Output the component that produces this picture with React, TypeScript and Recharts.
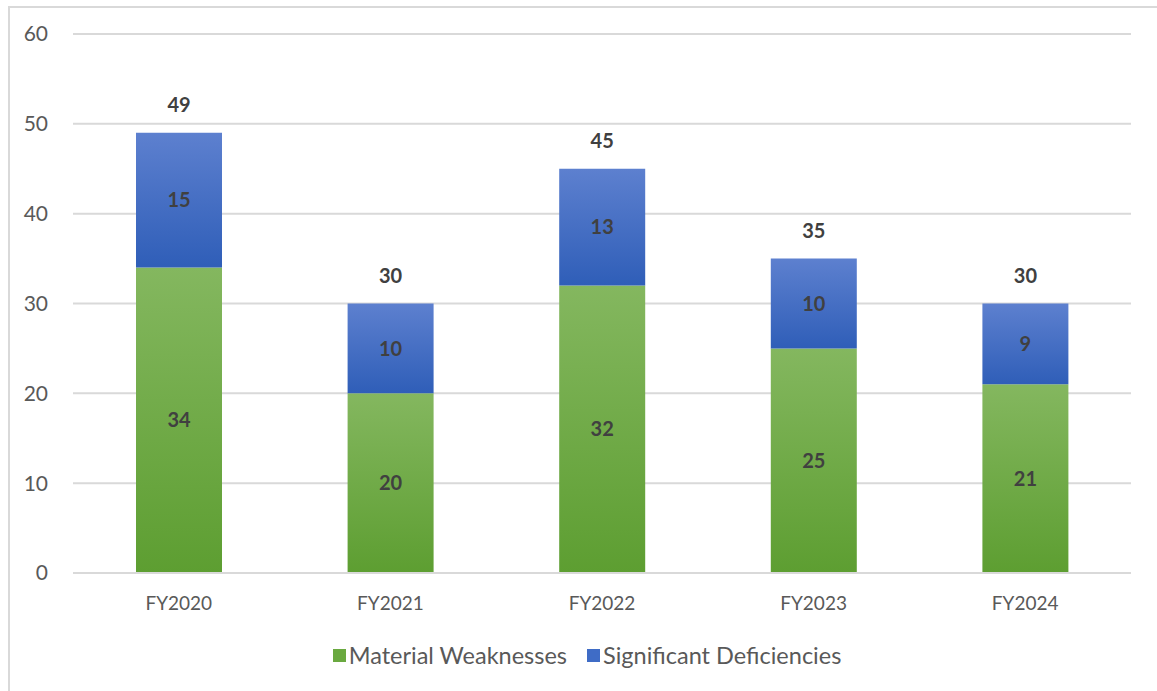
import { Bar, BarChart, CartesianGrid, LabelList, Legend, XAxis, YAxis } from "recharts";

const years = ["FY2020", "FY2021", "FY2022", "FY2023", "FY2024"];
const materialWeaknesses = [34, 20, 32, 25, 21];
const significantDeficiencies = [15, 10, 13, 10, 9];
const yTicks = [0, 10, 20, 30, 40, 50, 60];

const data = years.map((year, i) => ({
  year,
  mw: materialWeaknesses[i],
  sd: significantDeficiencies[i],
  total: materialWeaknesses[i] + significantDeficiencies[i],
}));

const font = "Lato, 'Open Sans', sans-serif";
const labelColor = "#404040";

function LegendContent() {
  const items = [
    { name: "Material Weaknesses", color: "#6aa940" },
    { name: "Significant Deficiencies", color: "#3f6cc6" },
  ];
  return (
    <div style={{ display: "flex", justifyContent: "center", gap: 20, fontFamily: font, fontSize: 23.5, color: "#595959", paddingLeft: 17 }}>
      {items.map((it) => (
        <div key={it.name} style={{ display: "flex", alignItems: "center" }}>
          <span style={{ display: "inline-block", width: 13, height: 13, background: it.color, marginRight: 3 }} />
          <span>{it.name}</span>
        </div>
      ))}
    </div>
  );
}

export default function App() {
  return (
    <div style={{ position: "fixed", left: 0, top: 0, width: 1157, height: 691, background: "#fff" }}>
      <div style={{ position: "absolute", left: 8, top: 6, right: 0, bottom: 0, borderLeft: "2px solid #d9d9d9", borderTop: "2px solid #d9d9d9" }} />
      <BarChart width={1157} height={691} data={data} margin={{ top: 34, right: 26, left: 8, bottom: 50 }} barSize={86}>
        <defs>
          <linearGradient id="mwGrad" x1="0" y1="0" x2="0" y2="1">
            <stop offset="0%" stopColor="#84b75f" />
            <stop offset="100%" stopColor="#5d9e31" />
          </linearGradient>
          <linearGradient id="sdGrad" x1="0" y1="0" x2="0" y2="1">
            <stop offset="0%" stopColor="#5d80cf" />
            <stop offset="100%" stopColor="#2f5eb8" />
          </linearGradient>
        </defs>
        <CartesianGrid vertical={false} stroke="#d9d9d9" strokeWidth={2} />
        <XAxis
          dataKey="year"
          axisLine={{ stroke: "#d9d9d9", strokeWidth: 2 }}
          tickLine={false}
          tickSize={0}
          tickMargin={24}
          height={40}
          tick={{ fill: "#595959", fontSize: 19, fontFamily: font }}
        />
        <YAxis
          domain={[0, 60]}
          ticks={yTicks}
          axisLine={false}
          tickLine={false}
          tickSize={0}
          tickMargin={25}
          width={65}
          tick={{ fill: "#595959", fontSize: 21, fontFamily: font }}
        />
        <Legend content={<LegendContent />} wrapperStyle={{ position: "absolute", left: 0, top: 641, width: 1157 }} />
        <Bar dataKey="mw" name="Material Weaknesses" stackId="a" fill="url(#mwGrad)" isAnimationActive={false}>
          <LabelList dataKey="mw" position="center" fill={labelColor} fontSize={20} fontWeight={700} fontFamily={font} />
        </Bar>
        <Bar dataKey="sd" name="Significant Deficiencies" stackId="a" fill="url(#sdGrad)" isAnimationActive={false}>
          <LabelList dataKey="sd" position="center" fill={labelColor} fontSize={20} fontWeight={700} fontFamily={font} />
          <LabelList dataKey="total" position="top" offset={21} fill={labelColor} fontSize={20} fontWeight={700} fontFamily={font} />
        </Bar>
      </BarChart>
    </div>
  );
}
